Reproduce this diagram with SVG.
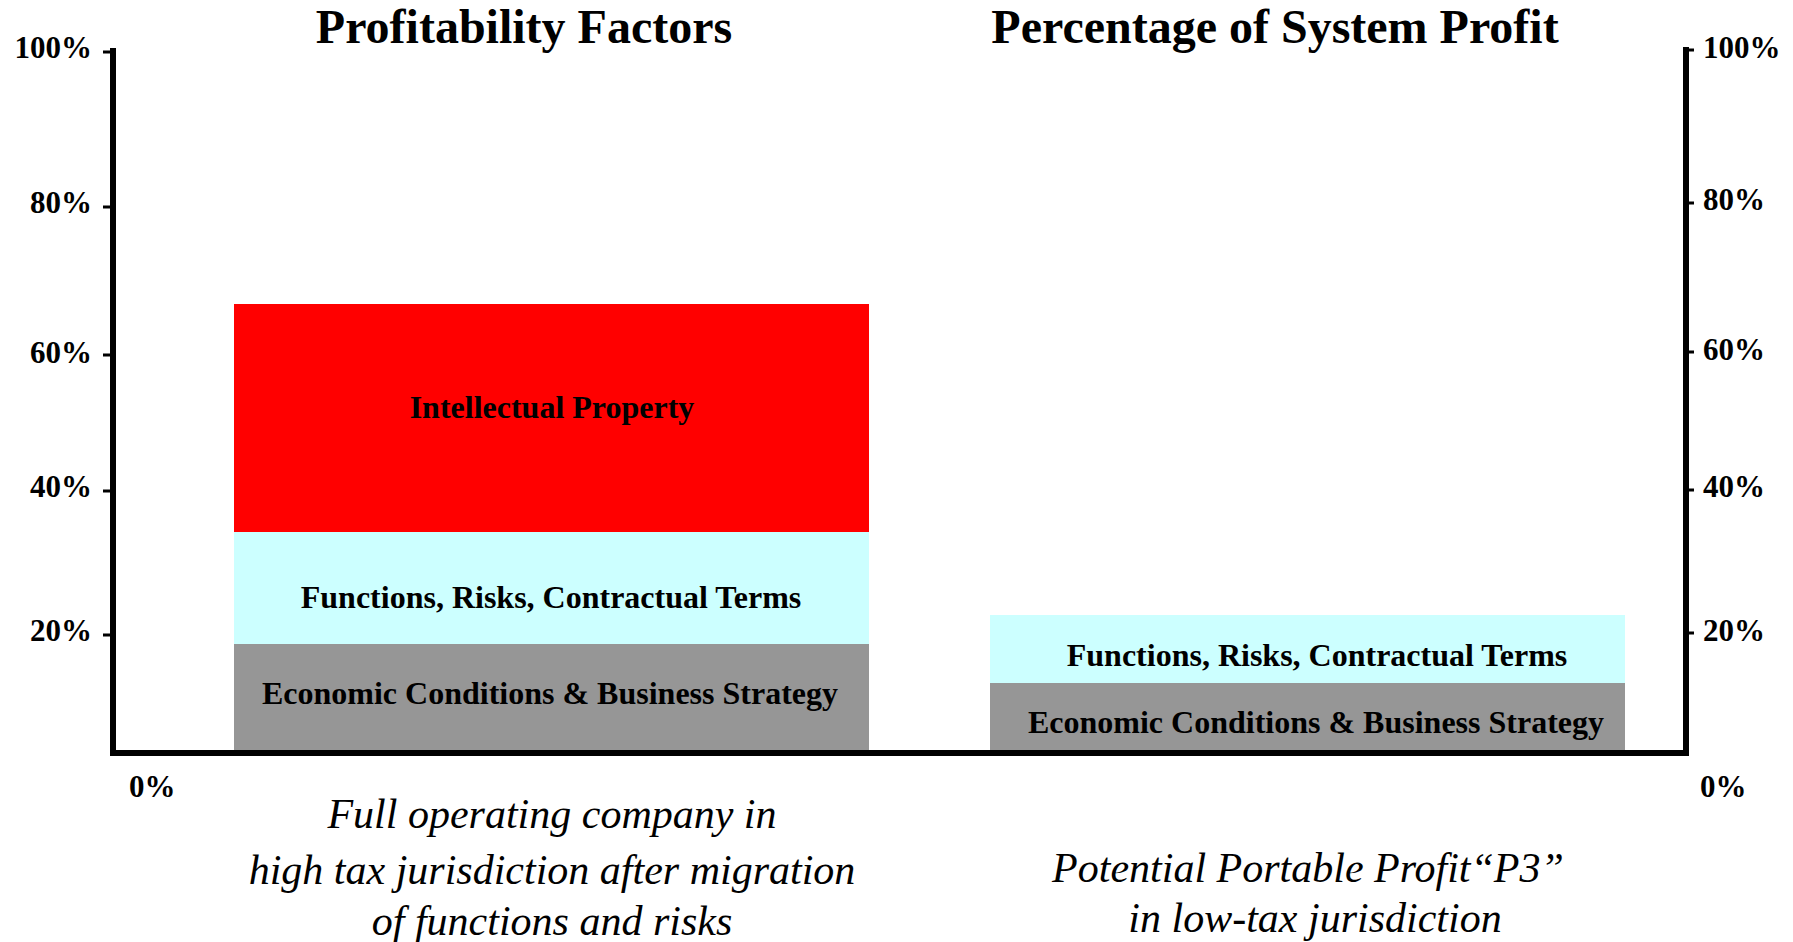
<svg xmlns="http://www.w3.org/2000/svg" width="1793" height="942" viewBox="0 0 1793 942">
<style>
text{font-family:"Liberation Serif","Times New Roman",serif;fill:#000}
.title{font-size:48px;font-weight:bold;text-anchor:middle}
.ax{font-size:31px;font-weight:bold}
.axl{text-anchor:end}
.lbl{font-size:32px;font-weight:bold;text-anchor:middle}
.cap{font-size:42px;font-style:italic;text-anchor:middle}
.axis{stroke:#000;stroke-width:6;fill:none}
.tick{stroke:#000;stroke-width:3}
</style>
<rect width="1793" height="942" fill="#fff"/>
<text class="title" x="524" y="43">Profitability Factors</text>
<text class="title" x="1275" y="43">Percentage of System Profit</text>
<g id="bar-left">
<rect id="ip" x="234" y="304" width="635" height="228" fill="#ff0000"/>
<rect id="frc-left" x="234" y="532" width="635" height="112" fill="#ccffff"/>
<rect id="econ-left" x="234" y="644" width="635" height="106" fill="#969696"/>
<text class="lbl" x="552" y="418">Intellectual Property</text>
<text class="lbl" x="551" y="608">Functions, Risks, Contractual Terms</text>
<text class="lbl" x="550" y="704">Economic Conditions &amp; Business Strategy</text>
</g>
<g id="bar-right">
<rect id="frc-right" x="990" y="615" width="635" height="68" fill="#ccffff"/>
<rect id="econ-right" x="990" y="683" width="635" height="67" fill="#969696"/>
<text class="lbl" x="1317" y="666">Functions, Risks, Contractual Terms</text>
<text class="lbl" x="1316" y="733">Economic Conditions &amp; Business Strategy</text>
</g>
<g id="axes">
<path class="axis" d="M113 48 V753 H1686 V47"/>
<path class="tick" d="M103 52H110M103 207H110M103 355H110M103 491H110M103 635H110"/>
<path class="tick" d="M1689 50H1694M1689 203H1694M1689 352H1694M1689 490H1694M1689 633H1694"/>
</g>
<g id="left-labels">
<text class="ax axl" x="92" y="58">100%</text>
<text class="ax axl" x="92" y="213">80%</text>
<text class="ax axl" x="92" y="363">60%</text>
<text class="ax axl" x="92" y="497">40%</text>
<text class="ax axl" x="92" y="641">20%</text>
<text class="ax" x="129" y="797">0%</text>
</g>
<g id="right-labels">
<text class="ax" x="1703" y="58">100%</text>
<text class="ax" x="1703" y="210">80%</text>
<text class="ax" x="1703" y="360">60%</text>
<text class="ax" x="1703" y="497">40%</text>
<text class="ax" x="1703" y="641">20%</text>
<text class="ax" x="1700" y="797">0%</text>
</g>
<g id="captions">
<text class="cap" x="552" y="828">Full operating company in</text>
<text class="cap" x="552" y="884">high tax jurisdiction after migration</text>
<text class="cap" x="552" y="935">of functions and risks</text>
<text class="cap" x="1308" y="882">Potential Portable Profit“P3”</text>
<text class="cap" x="1315" y="932">in low-tax jurisdiction</text>
</g>
</svg>
